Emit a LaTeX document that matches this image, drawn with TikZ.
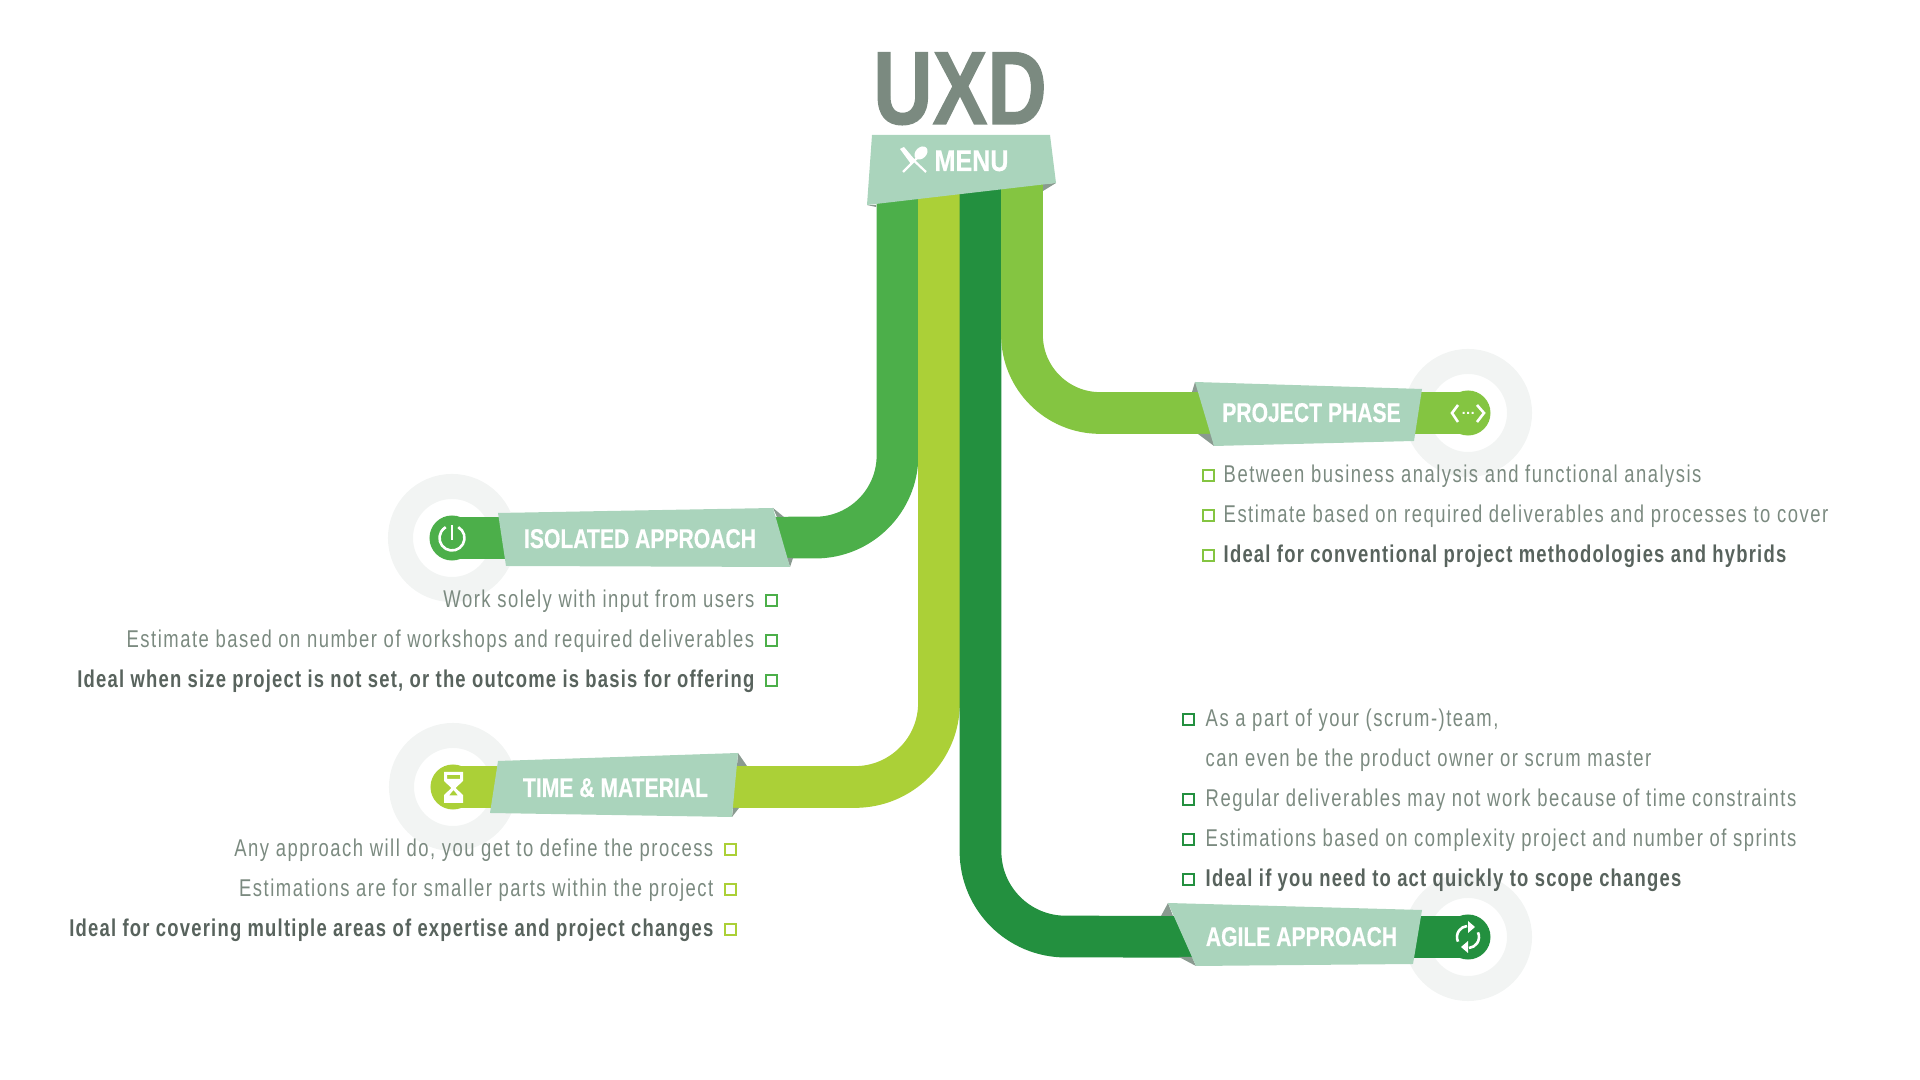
\documentclass[tikz,border=0pt]{standalone}
\usepackage{fontspec}
\usepackage{xcolor}
\usetikzlibrary{arrows.meta,positioning}
\newfontfamily\titlefont[FakeStretch=.79,FakeBold=1]{Liberation Sans}
\newfontfamily\menufont[FakeStretch=.84,FakeBold=.5]{Liberation Sans}
\newfontfamily\flagfont[FakeStretch=.78,FakeBold=.5]{Liberation Sans}
\newfontfamily\itemfont[FakeStretch=.76,LetterSpace=6.2,BoldFeatures={LetterSpace=5}]{Liberation Sans}
\definecolor{isogreen}{HTML}{4CAF4A}
\definecolor{timegreen}{HTML}{ABD037}
\definecolor{agilegreen}{HTML}{23903F}
\definecolor{phasegreen}{HTML}{84C541}
\definecolor{flagmint}{HTML}{AAD4BC}
\definecolor{foldgrey}{HTML}{8A9A90}
\definecolor{ringgrey}{HTML}{F2F4F3}
\definecolor{itemgrey}{HTML}{7B8A80}
\definecolor{idealgrey}{HTML}{58635D}
\begin{document}
\begin{tikzpicture}[
  x=.01cm, y=-.01cm,
  band/.style={line width=.417cm},
  ring/.style={circle, draw=ringgrey, line width=.25cm, minimum size=1.03cm, inner sep=0pt, outer sep=0pt},
  disk/.style={circle, minimum size=.45cm, inner sep=0pt, outer sep=0pt},
  flag/.style={fill=flagmint},
  fold/.style={fill=foldgrey},
  flagtxt/.style={anchor=base, inner sep=0pt, text=white, font=\flagfont\bfseries\fontsize{7.7}{9}\selectfont},
  item/.style={inner sep=0pt, text=itemgrey, font=\itemfont\fontsize{6.9}{8}\selectfont},
  ideal/.style={inner sep=0pt, text=idealgrey, font=\itemfont\bfseries\fontsize{6.9}{8}\selectfont},
  tick/.style={draw, line width=.02cm, minimum size=.11cm, inner sep=0pt, outer sep=0pt},
  icon/.style={draw=white, line width=.026cm},
]
\useasboundingbox (0,0) rectangle (1920,1080);
% rings behind everything
\node[ring] (isoring) at (452,538) {};
\node[ring] (timering) at (453,787) {};
\node[ring] (phasering) at (1468,413) {};
\node[ring] (agilering) at (1468,937) {};
\node[disk, fill=isogreen] (isodisk) at (isoring) {};
\node[disk, fill=timegreen] (timedisk) at (timering) {};
\node[disk, fill=phasegreen] (phasedisk) at (phasering) {};
\node[disk, fill=agilegreen] (agiledisk) at (agilering) {};
% bands
\coordinate (isotop) at (897.5,170);
\coordinate (timetop) at (939,170);
\coordinate (agiletop) at (980.5,170);
\coordinate (phasetop) at (1022,170);
\coordinate (isobend) at (897.5,537.5);
\coordinate (timebend) at (939,787);
\coordinate (agilebend) at (980.5,936.5);
\coordinate (phasebend) at (1022,413);
\draw[band, isogreen, rounded corners=.82cm] (isotop) -- (isobend) -- (isodisk.center);
\draw[band, timegreen, rounded corners=.84cm] (timetop) -- (timebend) -- (timedisk.center);
\draw[band, agilegreen, rounded corners=.85cm] (agiletop) -- (agilebend) -- (agiledisk.center);
\draw[band, phasegreen, rounded corners=.78cm] (phasetop) -- (phasebend) -- (phasedisk.center);
% title and menu
\node[anchor=base, inner sep=0pt, text=itemgrey, font=\titlefont\bfseries\fontsize{29.6}{32}\selectfont] (uxd) at (960,124) {UXD};
\fill[fold] (1043,184) -- (1056,183) -- (1043,191) -- cycle;
\fill[fold] (867,205) -- (876,205) -- (876,207) -- cycle;
\fill[flag] (872,135) -- (1050,135) -- (1056,183) -- (867,205) -- cycle;
\node[flagtxt, font=\menufont\bfseries\fontsize{8.5}{10}\selectfont] (menu) at (971.5,171) {MENU};
\draw[white, line width=.022cm] (903,172) -- (917,158);
\draw[white, line width=.022cm] (926,172) -- (908,155);
\fill[white] (900,149) -- (904,147) -- (915,160) -- (911,164) -- cycle;
\fill[white, rotate around={45:(921,153)}] (921,153) ellipse (7.5 and 5.5);
% flags
\fill[fold] (773,508) -- (784,517) -- (777,517) -- cycle;
\fill[fold] (787,558) -- (793,558) -- (790,567) -- cycle;
\fill[flag] (498,513) -- (773,508) -- (790,567) -- (506,566) -- cycle;
\node[flagtxt] (isolabel) at (640,548) {ISOLATED APPROACH};
\fill[fold] (738,753) -- (747,766) -- (737,766) -- cycle;
\fill[fold] (732,817) -- (739,808) -- (733,808) -- cycle;
\fill[flag] (498,761) -- (738,753) -- (732,817) -- (490,813) -- cycle;
\node[flagtxt] (timelabel) at (615.5,797) {TIME \& MATERIAL};
\fill[fold] (1195,382) -- (1192,392) -- (1200,392) -- cycle;
\fill[fold] (1198,434) -- (1212,434) -- (1214,446) -- cycle;
\fill[flag] (1195,382) -- (1422,389) -- (1414,441) -- (1214,446) -- cycle;
\node[flagtxt] (phaselabel) at (1311.5,422) {PROJECT PHASE};
\fill[fold] (1168,903) -- (1161,916) -- (1173,916) -- cycle;
\fill[fold] (1179,957) -- (1192,957) -- (1196,966) -- cycle;
\fill[flag] (1168,903) -- (1422,910) -- (1413,964) -- (1196,966) -- cycle;
\node[flagtxt] (agilelabel) at (1301.5,946) {AGILE APPROACH};
% icons
\draw[icon] ([shift={(60:.125cm)}]isodisk.center) arc[start angle=60, end angle=-240, radius=.125cm];
\draw[icon] (452,525) -- (452,540);
\fill[white, even odd rule] (444,772) -- (463,772) -- (463,781) -- (455.5,788) -- (463,795) -- (463,803) -- (444,803) -- (444,795) -- (451.5,788) -- (444,781) -- cycle
  (447,775) -- (460,775) -- (460,779) -- (447,779) -- cycle
  (453.5,790) -- (458,795.5) -- (449,795.5) -- cycle;
\draw[icon] (1458,405) -- (1452,413) -- (1458,422);
\draw[icon] (1477,405) -- (1484,413) -- (1477,422);
\fill[white] (1462.5,412) rectangle (1464.5,414) (1467,412) rectangle (1469,414) (1471.5,412) rectangle (1473.5,414);
\draw[icon] ([shift={(205:.11cm)}]agiledisk.center) arc[start angle=205, end angle=95, radius=.11cm];
\draw[icon] ([shift={(25:.11cm)}]agiledisk.center) arc[start angle=25, end angle=-85, radius=.11cm];
\fill[white] (1468,921) -- (1468,933) -- (1475,927) -- cycle;
\fill[white] (1468,953) -- (1468,941) -- (1461,947) -- cycle;
% isolated approach list
\node[item, anchor=base east] (iso1) at (755,608) {Work solely with input from users};
\node[item, anchor=base east] (iso2) at (755,648) {Estimate based on number of workshops and required deliverables};
\node[ideal, anchor=base east] (iso3) at (755,688) {Ideal when size project is not set, or the outcome is basis for offering};
\node[tick, draw=isogreen] (isotick1) at (771.5,601) {};
\node[tick, draw=isogreen] (isotick2) at (771.5,641) {};
\node[tick, draw=isogreen] (isotick3) at (771.5,681) {};
% time and material list
\node[item, anchor=base east] (time1) at (714,857) {Any approach will do, you get to define the process};
\node[item, anchor=base east] (time2) at (714,897) {Estimations are for smaller parts within the project};
\node[ideal, anchor=base east] (time3) at (714,937) {Ideal for covering multiple areas of expertise and project changes};
\node[tick, draw=timegreen] (timetick1) at (730,850) {};
\node[tick, draw=timegreen] (timetick2) at (730,890) {};
\node[tick, draw=timegreen] (timetick3) at (730,930) {};
% project phase list
\node[item, anchor=base west] (phase1) at (1223,483) {Between business analysis and functional analysis};
\node[item, anchor=base west] (phase2) at (1223,523) {Estimate based on required deliverables and processes to cover};
\node[ideal, anchor=base west] (phase3) at (1223,563) {Ideal for conventional project methodologies and hybrids};
\node[tick, draw=phasegreen] (phasetick1) at (1208,476) {};
\node[tick, draw=phasegreen] (phasetick2) at (1208,516) {};
\node[tick, draw=phasegreen] (phasetick3) at (1208,556) {};
% agile approach list
\node[item, anchor=base west] (agile1) at (1205,727) {As a part of your (scrum-)team,};
\node[item, anchor=base west] (agile2) at (1205,767) {can even be the product owner or scrum master};
\node[item, anchor=base west] (agile3) at (1205,807) {Regular deliverables may not work because of time constraints};
\node[item, anchor=base west] (agile4) at (1205,847) {Estimations based on complexity project and number of sprints};
\node[ideal, anchor=base west] (agile5) at (1205,887) {Ideal if you need to act quickly to scope changes};
\node[tick, draw=agilegreen] (agiletick1) at (1188,720) {};
\node[tick, draw=agilegreen] (agiletick3) at (1188,800) {};
\node[tick, draw=agilegreen] (agiletick4) at (1188,840) {};
\node[tick, draw=agilegreen] (agiletick5) at (1188,880) {};
\end{tikzpicture}
\end{document}
